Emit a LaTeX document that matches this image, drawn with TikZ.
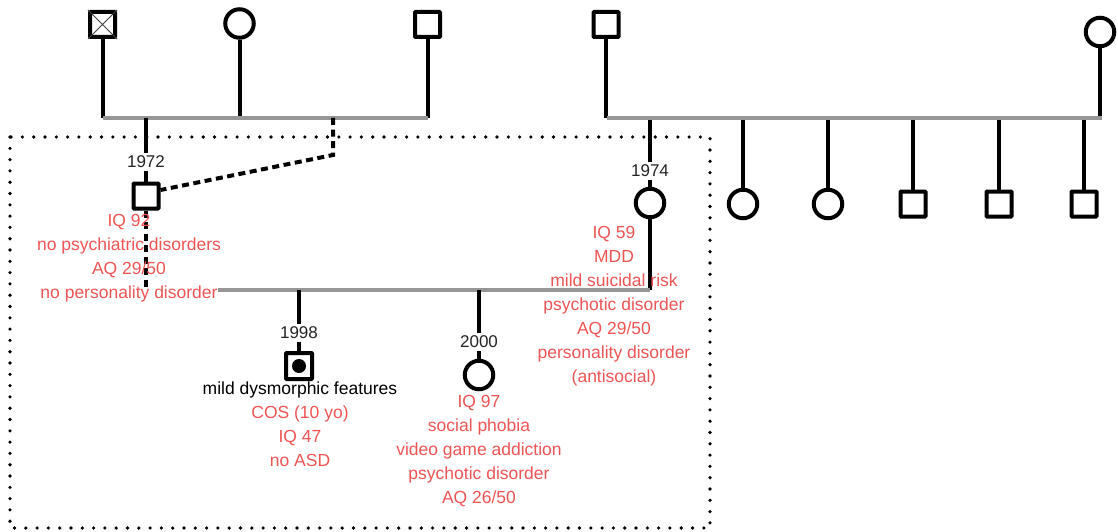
\documentclass[tikz,border=0pt]{standalone}
\usepackage{fontspec}
\setmainfont{Liberation Sans}
\definecolor{txtred}{RGB}{238,84,84}
\definecolor{marr}{RGB}{150,150,150}
\definecolor{lbl}{RGB}{35,35,35}
\begin{document}
\begin{tikzpicture}[x=1pt,y=-1pt,
  sq/.style={draw, line width=4pt, minimum size=25pt, inner sep=0pt, rounded corners=0.8pt, fill=white},
  ci/.style={draw, circle, line width=4pt, minimum size=28.5pt, inner sep=0pt, fill=white},
  dline/.style={line width=4pt},
  mline/.style={line width=4pt, marr},
  dashline/.style={line width=4pt, dash pattern=on 7pt off 4.5pt},
  yearlbl/.style={font=\fontsize{17}{24}\selectfont, text=lbl, inner sep=3pt},
  info/.style={font=\fontsize{17.5}{24}\selectfont, text=txtred, align=center, anchor=base, inner sep=0pt},
  dotbox/.style={line width=3.6pt, line cap=round, dash pattern=on 0pt off 11.3pt}
]
\useasboundingbox (0,0) rectangle (1118,532);

% dotted frame
\draw[dotbox] (10,137) rectangle (710,528);

% ---------- left grandparents ----------
\coordinate (mA) at (103,118);
\coordinate (mB) at (428,118);
\node[sq] (gf1) at (102.5,24.5) {};
\draw[line width=0.8pt, black!75] (gf1.north west) -- (gf1.south east) (gf1.north east) -- (gf1.south west);
\node[ci] (gm1) at (239.5,23.5) {};
\node[sq] (gf2) at (427.5,24.5) {};
\draw[dline] (gf1.south) -- (gf1 |- mA);
\draw[dline] (gm1.south) -- (gm1 |- mA);
\draw[dline] (gf2.south) -- (gf2 |- mA);
\draw[mline] (mA) -- (mB);

% father 1972
\coordinate (dF) at (146,118);
\coordinate (dH) at (333,118);
\coordinate (dHk) at (333,155);
\node[yearlbl] (y1972) at (146,162) {1972};
\node[sq] (f1972) at (146,196) {};
\draw[dline] (dF) -- (y1972.north);
\draw[dline] (y1972.south) -- (f1972.north);
\draw[dashline] (dH) -- (dHk) -- ([yshift=6pt]f1972.east);

% ---------- right grandparents ----------
\coordinate (mC) at (607,118);
\coordinate (mD) at (1102,118);
\node[sq] (gf3) at (606,24.5) {};
\node[ci] (gm3) at (1100,32) {};
\draw[dline] (gf3.south) -- (gf3 |- mC);
\draw[dline] (gm3.south) -- (gm3 |- mD);

% siblings
\node[ci] (s1) at (743,204) {};
\node[ci] (s2) at (828,204) {};
\node[sq] (s3) at (913,204) {};
\node[sq] (s4) at (999,204) {};
\node[sq] (s5) at (1084,204) {};
\foreach \s in {s1,s2,s3,s4,s5}{
  \draw[dline] (\s.north) -- (\s |- mC);
}

% mother 1974
\coordinate (dM) at (650,118);
\node[yearlbl] (y1974) at (650,171) {1974};
\node[ci] (m1974) at (650,203) {};
\draw[dline] (dM) -- (y1974.north);
\draw[dline] (y1974.south) -- (m1974.north);
\draw[mline] (mC) -- (mD);

% ---------- parents' marriage ----------
\coordinate (pL) at (218,290);
\coordinate (pR) at (650,290);
\coordinate (fEnd) at (146,287);
\draw[dashline] (f1972.south) -- (fEnd);
\draw[dline] (m1974.south) -- (pR);
\draw[mline] (pL) -- (pR);

% child 1998
\node[yearlbl] (y1998) at (299,333) {1998};
\node[sq, minimum size=26pt] (c1998) at (299,366) {};
\fill (c1998.center) circle (7pt);
\draw[dline] (y1998 |- pR) -- (y1998.north);
\draw[dline] (y1998.south) -- (c1998.north);

% child 2000
\node[yearlbl] (y2000) at (479,342) {2000};
\node[ci] (c2000) at (479,375) {};
\draw[dline] (y2000 |- pR) -- (y2000.north);
\draw[dline] (y2000.south) -- (c2000.north);

% ---------- texts ----------
\node[info] (t1972) at (129,298) {IQ 92\\no psychiatric disorders\\AQ 29/50\\no personality disorder};
\node[info] (t1974) at (614,382) {IQ 59\\MDD\\mild suicidal risk\\psychotic disorder\\AQ 29/50\\personality disorder\\(antisocial)};
\node[info] (t1998) at (300,466) {\textcolor{black}{mild dysmorphic features}\\COS (10 yo)\\IQ 47\\no ASD};
\node[info] (t2000) at (479,503) {IQ 97\\social phobia\\video game addiction\\psychotic disorder\\AQ 26/50};
\end{tikzpicture}
\end{document}
